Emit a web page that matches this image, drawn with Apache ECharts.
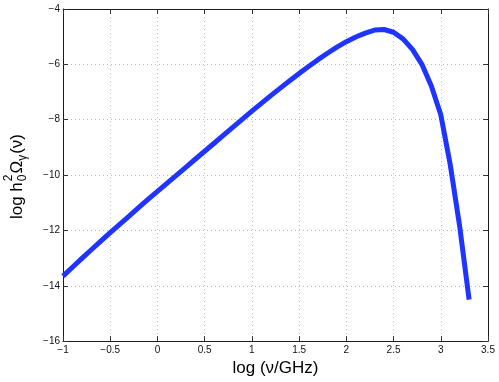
<!DOCTYPE html>
<html>
<head>
    <meta charset="UTF-8">
    <title>log h0^2 Omega</title>
    <style>
        html,body{margin:0;padding:0;background:#fff;}
        #spectrum{width:499px;height:382px;}
    </style>
</head>
<body>
<div id="spectrum"></div>
<script src="https://cdn.jsdelivr.net/npm/echarts@6/dist/echarts.min.js"></script>
<script>
    // log(nu/GHz) and log h0^2 Omega_gamma(nu)
    const logFreq = [-1.0,-0.9,-0.8,-0.7,-0.6,-0.5,-0.4,-0.3,-0.2,-0.1,
        0.0,0.1,0.2,0.3,0.4,0.5,0.6,0.7,0.8,0.9,
        1.0,1.1,1.2,1.3,1.4,1.5,1.6,1.7,1.8,1.9,
        2.0,2.1,2.2,2.3,2.4,2.5,2.6,2.7,2.8,2.9,
        3.0,3.1,3.2,3.3];
    const logOmega = [-13.65,-13.33,-13.01,-12.70,-12.39,-12.08,-11.78,-11.48,-11.18,-10.88,
        -10.59,-10.30,-10.01,-9.72,-9.43,-9.14,-8.85,-8.56,-8.27,-7.98,
        -7.69,-7.41,-7.13,-6.86,-6.59,-6.33,-6.08,-5.83,-5.60,-5.38,
        -5.18,-5.01,-4.87,-4.76,-4.74,-4.84,-5.08,-5.46,-6.00,-6.78,
        -7.82,-9.62,-11.85,-14.50];
    const xRange = [-1, 3.5, 0.5];
    const yRange = [-16, -4, 2];

    const FONT = '"Liberation Sans", Arial, sans-serif';
    const minus = v => String(v).replace('-', '\u2212');

    function textWidth(str, size){
        let ctx = document.createElement('canvas').getContext('2d');
        ctx.font = size + 'px ' + FONT;
        return ctx.measureText(str).width;
    }

    // y title pieces: main text, stacked sup/sub, subscript gamma
    function yTitle(cx, cy){
        let big = 17, small = 12;
        let w1 = textWidth('log h', big);
        let w2 = Math.max(textWidth('2', small), textWidth('0', small));
        let w3 = textWidth('\u03A9', big);
        let w4 = textWidth('\u03B3', small);
        let w5 = textWidth('(\u03BD)', big);
        let total = w1 + 1 + w2 + 1 + w3 + w4 + 1 + w5;
        let parts = [
            {t:'log h', x:0, y:0, s:big},
            {t:'2', x:w1 + 1, y:-11, s:small},
            {t:'0', x:w1 + 1, y:3, s:small},
            {t:'\u03A9', x:w1 + w2 + 2, y:0, s:big},
            {t:'\u03B3', x:w1 + w2 + 2 + w3, y:3, s:small},
            {t:'(\u03BD)', x:w1 + w2 + 3 + w3 + w4, y:0, s:big}
        ];
        return {
            type:'group',
            x:cx, y:cy + total / 2,
            rotation:Math.PI / 2,
            children:parts.map(p => ({
                type:'text',
                style:{
                    text:p.t, x:p.x, y:p.y,
                    font:p.s + 'px ' + FONT,
                    fill:'#000',
                    verticalAlign:'bottom'
                }
            }))
        };
    }

    let axisLine = {show:true, onZero:false, lineStyle:{color:'#1a1a1a', width:1}};
    let axisTick = {show:true, inside:true, length:5, lineStyle:{color:'#333'}};
    let splitLine = {show:true, showMinLine:false, showMaxLine:false,
        lineStyle:{color:'#b8b8b8', type:[1,3], width:1}};

    let myChart = echarts.init(document.getElementById('spectrum'));
    let option = {
        animation:false,
        backgroundColor:'#fff',
        grid:{left:63, right:11, top:9, bottom:38},
        xAxis:[{
            type:'value',
            min:xRange[0], max:xRange[1], interval:xRange[2],
            position:'bottom',
            axisLine:axisLine, axisTick:axisTick, splitLine:splitLine,
            axisLabel:{color:'#111', fontSize:10, fontFamily:FONT, margin:4, formatter:minus},
            name:'log (\u03BD/GHz)',
            nameLocation:'middle',
            nameGap:18,
            nameTextStyle:{color:'#000', fontSize:17, fontFamily:FONT}
        },{
            type:'value',
            min:xRange[0], max:xRange[1], interval:xRange[2],
            position:'top',
            axisLine:axisLine, axisTick:axisTick,
            axisLabel:{show:false}, splitLine:{show:false}
        }],
        yAxis:[{
            type:'value',
            min:yRange[0], max:yRange[1], interval:yRange[2],
            position:'left',
            axisLine:axisLine, axisTick:axisTick, splitLine:splitLine,
            axisLabel:{color:'#111', fontSize:10, fontFamily:FONT, margin:3, formatter:minus}
        },{
            type:'value',
            min:yRange[0], max:yRange[1], interval:yRange[2],
            position:'right',
            axisLine:axisLine, axisTick:axisTick,
            axisLabel:{show:false}, splitLine:{show:false}
        }],
        graphic:[yTitle(26, 176.5)],
        series:[{
            type:'line',
            xAxisIndex:0,
            yAxisIndex:0,
            showSymbol:false,
            smooth:false,
            data:logFreq.map((x, i) => [x, logOmega[i]]),
            lineStyle:{color:'#1f35ff', width:5, cap:'butt', join:'round'}
        }]
    };
    myChart.setOption(option);
</script>
</body>
</html>
